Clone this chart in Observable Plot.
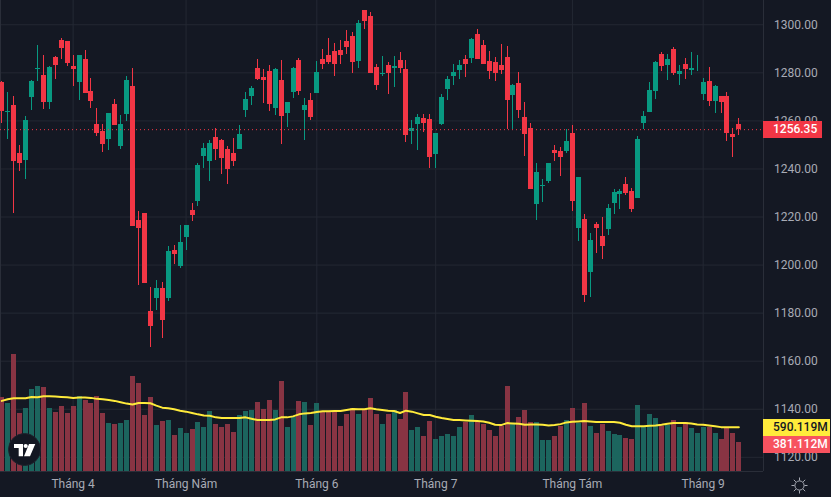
<!DOCTYPE html>
<html lang="vi">
<head>
<meta charset="UTF-8">
<title>Biểu đồ nến</title>
<script src="https://cdn.jsdelivr.net/npm/d3@7"></script>
<script src="https://cdn.jsdelivr.net/npm/@observablehq/plot@0.6"></script>
<style>
    body { margin: 0; background: #141823; font-family: Roboto, sans-serif; overflow: hidden; }
    #chart { position: relative; width: 831px; height: 497px; }
    #chart svg.layer { position: absolute; left: 0; top: 0; }
    .tag { position: absolute; left: 763px; height: 17.3px; line-height: 17.3px; padding-left: 10px; box-sizing: border-box; font-size: 12px; font-weight: 500; }
    .logo, .gear { position: absolute; }
</style>
</head>
<body>
<div id="chart"></div>
<script>
const open = [1276.0,1263.7,1266.4,1246.5,1243.5,1269.8,1281.4,1278.9,1267.7,1286.4,1293.5,1293.1,1282.7,1276.0,1285.6,1272.3,1258.5,1255.6,1252.3,1266.9,1249.4,1262.7,1274.3,1218.6,1221.5,1180.7,1186.1,1190.3,1186.1,1206.1,1199.4,1211.5,1222.7,1226.5,1245.2,1243.1,1253.1,1251.9,1248.1,1246.5,1248.1,1264.4,1270.2,1281.8,1278.1,1280.6,1265.2,1276.8,1263.1,1271.8,1285.2,1264.4,1268.5,1271.4,1285.6,1287.2,1288.9,1289.3,1293.1,1295.1,1284.7,1306.0,1303.5,1282.2,1279.3,1283.1,1281.8,1285.2,1281.4,1255.6,1258.5,1261.0,1260.6,1246.0,1258.5,1273.1,1278.5,1281.0,1285.6,1286.0,1296.0,1291.4,1284.7,1284.3,1283.1,1286.4,1270.6,1275.6,1261.4,1256.9,1225.2,1232.7,1234.8,1247.7,1247.3,1247.3,1254.8,1215.3,1219.0,1196.9,1216.9,1211.9,1214.8,1225.7,1229.4,1233.6,1230.6,1227.7,1258.9,1263.5,1272.3,1287.7,1283.1,1289.7,1279.3,1283.5,1281.0,1283.8,1271.0,1276.4,1268.1,1270.2,1270.2,1254.4,1258.5];
const close = [1263.9,1263.9,1243.1,1242.3,1260.2,1276.4,1281.8,1267.7,1282.2,1283.1,1290.2,1283.9,1281.4,1287.2,1271.4,1268.1,1254.8,1250.2,1263.1,1258.1,1258.5,1276.8,1216.1,1215.3,1192.4,1174.5,1190.3,1177.0,1205.7,1204.4,1209.4,1216.5,1220.7,1241.5,1248.5,1250.6,1248.1,1244.4,1239.8,1243.1,1254.4,1268.9,1273.5,1277.3,1276.8,1266.9,1281.4,1261.9,1267.7,1281.8,1272.3,1266.4,1261.4,1280.2,1283.5,1284.3,1283.5,1287.2,1290.6,1284.3,1300.6,1301.4,1279.7,1274.8,1279.7,1279.7,1282.7,1281.8,1254.0,1256.9,1261.4,1258.9,1244.8,1254.8,1269.8,1277.3,1280.2,1283.1,1283.5,1293.9,1285.6,1283.5,1280.6,1279.7,1281.0,1268.5,1274.8,1264.4,1254.4,1231.5,1238.6,1233.1,1242.3,1246.5,1244.8,1251.5,1226.5,1236.5,1187.4,1210.3,1215.3,1207.8,1223.6,1230.2,1230.6,1229.8,1223.2,1252.3,1261.9,1272.7,1284.3,1282.7,1285.6,1279.7,1280.6,1281.4,1281.8,1284.0,1276.0,1268.1,1274.3,1267.7,1254.8,1253.1,1256.35];
const high = [1276.4,1271.8,1270.2,1249.8,1261.9,1276.8,1291.4,1287.2,1282.7,1286.8,1294.3,1293.1,1287.2,1287.2,1289.3,1277.7,1265.2,1258.5,1263.1,1268.9,1262.3,1278.5,1281.8,1222.3,1221.5,1190.7,1193.6,1192.8,1207.8,1208.2,1216.5,1216.5,1225.7,1242.3,1250.6,1251.9,1256.9,1252.3,1249.4,1252.7,1258.1,1271.8,1274.3,1285.6,1281.4,1283.1,1281.8,1285.2,1267.7,1282.2,1286.0,1269.3,1271.4,1284.7,1289.7,1294.3,1292.2,1293.5,1297.6,1296.8,1301.8,1306.0,1305.1,1283.5,1286.8,1284.3,1286.8,1288.5,1285.2,1260.2,1262.7,1262.7,1262.7,1254.8,1271.0,1278.5,1283.5,1285.2,1287.2,1294.3,1298.1,1293.5,1288.9,1286.4,1291.8,1291.0,1275.2,1280.2,1267.7,1258.9,1242.3,1235.6,1242.3,1249.8,1249.0,1256.3,1258.1,1236.5,1221.1,1213.2,1217.8,1219.8,1225.2,1231.5,1231.5,1236.5,1231.9,1253.5,1263.9,1276.0,1284.7,1288.5,1287.7,1290.6,1283.1,1286.0,1288.5,1287.2,1277.7,1282.2,1274.8,1270.2,1271.8,1256.9,1261.0];
const low = [1258.9,1252.3,1221.5,1239.0,1235.6,1264.4,1276.4,1264.8,1264.8,1277.3,1285.6,1282.7,1274.3,1268.5,1271.4,1265.2,1253.5,1246.9,1247.7,1258.1,1248.1,1259.8,1216.1,1191.5,1192.4,1165.7,1181.1,1169.5,1184.9,1200.3,1198.6,1206.1,1218.2,1224.4,1240.2,1234.8,1243.5,1237.7,1233.6,1241.1,1248.1,1261.4,1266.4,1276.8,1267.3,1263.9,1262.3,1250.2,1257.3,1269.3,1270.6,1251.9,1260.2,1271.4,1281.4,1283.5,1278.5,1283.5,1287.7,1279.7,1281.8,1298.1,1279.7,1272.7,1278.5,1271.0,1273.9,1279.7,1251.0,1250.2,1247.7,1255.2,1240.2,1240.2,1258.1,1268.5,1274.8,1277.3,1278.1,1283.9,1285.6,1283.5,1277.3,1276.4,1279.3,1256.4,1256.4,1261.0,1245.2,1231.5,1218.6,1226.1,1234.0,1243.1,1236.9,1246.5,1222.3,1209.8,1184.5,1186.5,1204.9,1202.4,1212.3,1221.1,1223.2,1229.0,1221.9,1227.7,1256.3,1263.5,1268.9,1280.6,1276.8,1278.9,1274.8,1277.3,1278.9,1280.6,1268.5,1266.0,1263.1,1263.1,1251.5,1244.8,1254.0];
const volume = [990,911,1558,766,832,1096,1135,1122,832,779,858,766,871,1003,950,898,1003,766,634,620,634,673,1267,1175,739,990,607,660,673,475,568,502,554,647,581,792,620,581,620,515,739,792,805,924,818,950,805,1201,581,713,937,924,607,898,792,792,792,594,752,832,752,818,977,752,620,752,805,686,1056,541,581,462,660,422,462,488,462,581,647,739,660,620,541,462,594,1135,634,713,805,647,647,409,409,462,594,673,832,634,911,594,502,620,528,488,475,436,422,884,581,752,700,594,607,673,581,647,568,502,581,581,502,422,568,502,381.112];
const volumeMa = [939,961,974,974,974,992,988,1001,1001,997,992,988,979,983,983,979,966,961,952,939,921,903,890,912,912,907,876,849,840,827,809,796,778,760,746,742,720,711,711,711,711,720,702,684,684,684,693,720,720,733,760,773,778,791,800,800,805,805,818,831,827,827,840,827,818,809,805,778,809,796,773,751,751,729,711,697,684,684,679,675,671,666,648,621,617,644,639,635,621,626,626,621,612,617,630,653,662,666,671,666,657,657,657,657,648,621,603,603,603,608,612,621,635,644,644,644,639,626,621,612,603,590,590,590,590.119];

const priceTicks = [1120,1140,1160,1180,1200,1220,1240,1260,1280,1300];
const monthIdx = [12,31,53,73,96,118];
const monthLabels = ["Tháng 4","Tháng Năm","Tháng 6","Tháng 7","Tháng Tám","Tháng 9"];

const upColor = "#089981", downColor = "#f23645";
const upVol = "#1c655e", downVol = "#883443";
const textColor = "#a8abb5", gridColor = "#242833";

const candles = open.map((o, i) => ({
    i, open: o, close: close[i], high: high[i], low: low[i],
    volume: volume[i], ma: volumeMa[i], up: close[i] >= o
}));

const shared = {
    width: 831,
    height: 497,
    marginLeft: 0,
    marginRight: 68,
    marginTop: 0,
    marginBottom: 26,
    style: { background: "transparent", fontFamily: "Roboto, sans-serif" }
};

const pricePlot = Plot.plot({
    ...shared,
    x: { domain: [-0.22, 128.15] },
    y: { domain: [1114.1, 1310.1] },
    marks: [
        Plot.gridX(monthIdx, { stroke: gridColor, strokeOpacity: 1 }),
        Plot.gridY(priceTicks, { stroke: gridColor, strokeOpacity: 1 }),
        Plot.ruleY([1114.1], { stroke: "#2a2e39" }),
        Plot.ruleX([-0.22, 128.15], { stroke: "#2a2e39" }),
        Plot.ruleX(candles, {
            x: "i", y1: "low", y2: "high", strokeWidth: 1,
            stroke: d => d.up ? upColor : downColor, shapeRendering: "crispEdges"
        }),
        Plot.ruleX(candles, {
            x: "i", y1: "open", y2: "close", strokeWidth: 5,
            stroke: d => d.up ? upColor : downColor, shapeRendering: "crispEdges"
        }),
        Plot.ruleY([close[close.length - 1]], { stroke: downColor, strokeDasharray: "1,3" }),
        Plot.axisY(priceTicks, {
            anchor: "right", label: null, tickSize: 0, tickPadding: 10.5,
            tickFormat: d => d.toFixed(2), fontSize: 12, fill: textColor
        }),
        Plot.axisX(monthIdx, {
            label: null, tickSize: 0, tickPadding: 8,
            tickFormat: d => monthLabels[monthIdx.indexOf(d)], fontSize: 12, fill: textColor
        })
    ]
});

const volumePlot = Plot.plot({
    ...shared,
    x: { domain: [-0.22, 128.15], axis: null },
    y: { domain: [0, 6264], axis: null },
    marks: [
        Plot.ruleX(candles, {
            x: "i", y1: 0, y2: "volume", strokeWidth: 5,
            stroke: d => d.up ? upVol : downVol, shapeRendering: "crispEdges"
        }),
        Plot.line(candles, { x: "i", y: "ma", stroke: "#ffeb3b", strokeWidth: 2 })
    ]
});

pricePlot.classList.add("layer");
volumePlot.classList.add("layer");

const chart = document.getElementById("chart");
chart.append(pricePlot, volumePlot);

function addTag(label, top, width, background, color) {
    const tag = document.createElement("div");
    tag.className = "tag";
    tag.textContent = label;
    tag.style.top = top + "px";
    tag.style.width = width + "px";
    tag.style.background = background;
    tag.style.color = color;
    chart.append(tag);
}

const lastClose = close[close.length - 1];
const lastMa = volumeMa[volumeMa.length - 1];
const maTop = volumePlot.scale("y").apply(lastMa) - 8;
addTag(lastClose.toFixed(2), pricePlot.scale("y").apply(lastClose) - 8.6, 59, downColor, "#ffffff");
addTag(lastMa.toFixed(3) + "M", maTop, 67, "#ffeb3b", "#131722");
addTag(volume[volume.length - 1].toFixed(3) + "M", maTop + 17.3, 67, "#f7525f", "#ffffff");

chart.insertAdjacentHTML("beforeend", `
<svg class="logo" style="left:8px;top:433px" width="33" height="33" viewBox="0 0 33 33">
  <circle cx="16.5" cy="16.5" r="16" fill="#131722" stroke="#1e222d" stroke-width="1"/>
  <path d="M6 11h9v12.3h-4.3v-8.4h-4.7z M21 11h6.3l-5.3 12.3h-6z" fill="#fff"/>
  <circle cx="17.7" cy="13" r="2.1" fill="#fff"/>
</svg>
<svg class="gear" style="left:790px;top:476px" width="19" height="19" viewBox="0 0 19 19" fill="none" stroke="#a8abb5" stroke-width="1">
  <circle cx="9.5" cy="9.5" r="4.6"/>
  <path d="M9.5 1.5v3 M9.5 14.5v3 M1.5 9.5h3 M14.5 9.5h3 M3.8 3.8l2.1 2.1 M13.1 13.1l2.1 2.1 M15.2 3.8l-2.1 2.1 M5.9 13.1l-2.1 2.1"/>
</svg>`);
</script>
</body>
</html>
